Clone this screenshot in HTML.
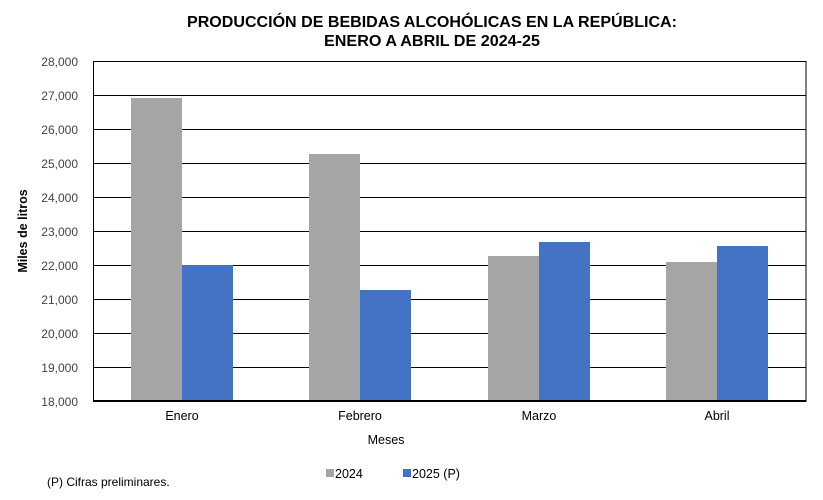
<!DOCTYPE html><html><head><style>body{margin:0;background:#fff}</style></head><body>
<svg width="823" height="495" xmlns="http://www.w3.org/2000/svg" font-family="Liberation Sans, sans-serif">
<rect width="823" height="495" fill="#fff"/>
<text x="432" y="27" font-size="15.5" font-weight="bold" text-anchor="middle" textLength="490" lengthAdjust="spacingAndGlyphs">PRODUCCIÓN DE BEBIDAS ALCOHÓLICAS EN LA REPÚBLICA:</text>
<text x="432" y="46" font-size="15.5" font-weight="bold" text-anchor="middle" textLength="216" lengthAdjust="spacingAndGlyphs">ENERO A ABRIL DE 2024-25</text>
<g stroke="#000" stroke-width="1">
<line x1="93" y1="61.5" x2="806" y2="61.5"/><line x1="93" y1="95.5" x2="806" y2="95.5"/><line x1="93" y1="129.5" x2="806" y2="129.5"/><line x1="93" y1="163.5" x2="806" y2="163.5"/><line x1="93" y1="197.5" x2="806" y2="197.5"/><line x1="93" y1="231.5" x2="806" y2="231.5"/><line x1="93" y1="265.5" x2="806" y2="265.5"/><line x1="93" y1="299.5" x2="806" y2="299.5"/><line x1="93" y1="333.5" x2="806" y2="333.5"/><line x1="93" y1="367.5" x2="806" y2="367.5"/>
</g>
<g fill="#A5A5A5"><rect x="131" y="98" width="51" height="303"/><rect x="309" y="154" width="51" height="247"/><rect x="488" y="256" width="51" height="145"/><rect x="666" y="262" width="51" height="139"/></g>
<g fill="#4472C4"><rect x="182" y="265" width="51" height="136"/><rect x="360" y="290" width="51" height="111"/><rect x="539" y="242" width="51" height="159"/><rect x="717" y="246" width="51" height="155"/></g>
<rect x="93.5" y="61.5" width="712.5" height="340" fill="none" stroke="#000" stroke-width="1"/>
<line x1="93" y1="401" x2="806" y2="401" stroke="#000" stroke-width="2"/>
<g font-size="12" fill="#444" text-anchor="end">
<text x="78" y="66">28,000</text><text x="78" y="100">27,000</text><text x="78" y="134">26,000</text><text x="78" y="168">25,000</text><text x="78" y="202">24,000</text><text x="78" y="236">23,000</text><text x="78" y="270">22,000</text><text x="78" y="304">21,000</text><text x="78" y="338">20,000</text><text x="78" y="372">19,000</text><text x="78" y="406">18,000</text>
</g>
<g font-size="12.5" text-anchor="middle"><text x="182" y="420">Enero</text><text x="360" y="420">Febrero</text><text x="539" y="420">Marzo</text><text x="717" y="420">Abril</text>
<text x="386" y="444">Meses</text></g>
<text transform="translate(27,231) rotate(-90)" font-size="12.5" font-weight="bold" text-anchor="middle">Miles de litros</text>
<text x="47" y="486" font-size="12">(P) Cifras  preliminares.</text>
<rect x="326" y="469" width="8" height="8" fill="#A5A5A5"/><text x="335" y="478" font-size="12.5">2024</text>
<rect x="403" y="469" width="8" height="8" fill="#4472C4"/><text x="412" y="478" font-size="12.5">2025 (P)</text>
</svg></body></html>
